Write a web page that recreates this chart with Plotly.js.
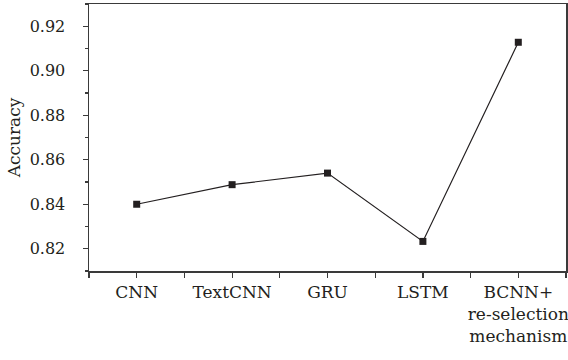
<!DOCTYPE html>
<html>
<head>
<meta charset="utf-8">
<script src="https://cdn.plot.ly/plotly-3.0.1.min.js"></script>
<style>html,body{margin:0;padding:0;background:#fff;}#chart{width:568px;height:360px;}</style>
</head>
<body>
<div id="chart"></div>
<script>
const categories = ["CNN", "TextCNN", "GRU", "LSTM", "BCNN+<br>re-selection<br>mechanism"];
const accuracy = [0.840, 0.8488, 0.854, 0.8233, 0.9128];
const yTickVals = [0.82, 0.84, 0.86, 0.88, 0.90, 0.92];
const yTickText = ["0.82", "0.84", "0.86", "0.88", "0.90", "0.92"];

const xPos = categories.map((c, i) => i);
const xTickVals = [];
const xTickText = [];
for (let i = -0.5; i <= categories.length - 0.5 + 1e-9; i += 0.5) {
  xTickVals.push(i);
  const idx = Math.round(i);
  xTickText.push(Math.abs(i - idx) < 1e-9 && idx >= 0 && idx < categories.length ? categories[idx] : "");
}

const axisColor = "#3a3a3a";
const fontFamily = "'DejaVu Serif', serif";
const xFont = {family: fontFamily, size: 17, color: "#231f20"};
const yFont = {family: fontFamily, size: 16, color: "#231f20"};
const titleFont = {family: fontFamily, size: 17, color: "#231f20"};

Plotly.newPlot("chart", [{
  x: xPos,
  y: accuracy,
  type: "scatter",
  mode: "lines+markers",
  line: {color: "#231f20", width: 1.2},
  marker: {symbol: "square", size: 7, color: "#231f20"},
  hoverinfo: "skip"
}], {
  width: 568, height: 360,
  margin: {l: 89, r: 2, t: 4, b: 89},
  paper_bgcolor: "#fff", plot_bgcolor: "#fff",
  showlegend: false,
  font: xFont,
  xaxis: {
    range: [-0.5, categories.length - 0.5],
    tickmode: "array", tickvals: xTickVals, ticktext: xTickText,
    ticks: "outside", ticklen: 5, tickwidth: 1.2, tickcolor: axisColor,
    showline: true, linecolor: axisColor, linewidth: 1.5, mirror: true,
    showgrid: false, zeroline: false,
    ticklabelstandoff: 0,
    ticklabeloverflow: "allow",
    tickfont: xFont
  },
  yaxis: {
    range: [0.81, 0.93],
    tickmode: "array", tickvals: yTickVals, ticktext: yTickText,
    ticks: "outside", ticklen: 5, tickwidth: 1.2, tickcolor: axisColor,
    minor: {tickmode: "linear", tick0: 0.81, dtick: 0.02, ticks: "outside", ticklen: 3, tickcolor: axisColor, tickwidth: 1.2, showgrid: false},
    showline: true, linecolor: axisColor, linewidth: 1.5, mirror: true,
    showgrid: false, zeroline: false,
    ticklabelstandoff: 14,
    tickfont: yFont,
    title: {text: "Accuracy", font: titleFont, standoff: 4}
  }
}, {staticPlot: true, displayModeBar: false});
</script>
</body>
</html>
